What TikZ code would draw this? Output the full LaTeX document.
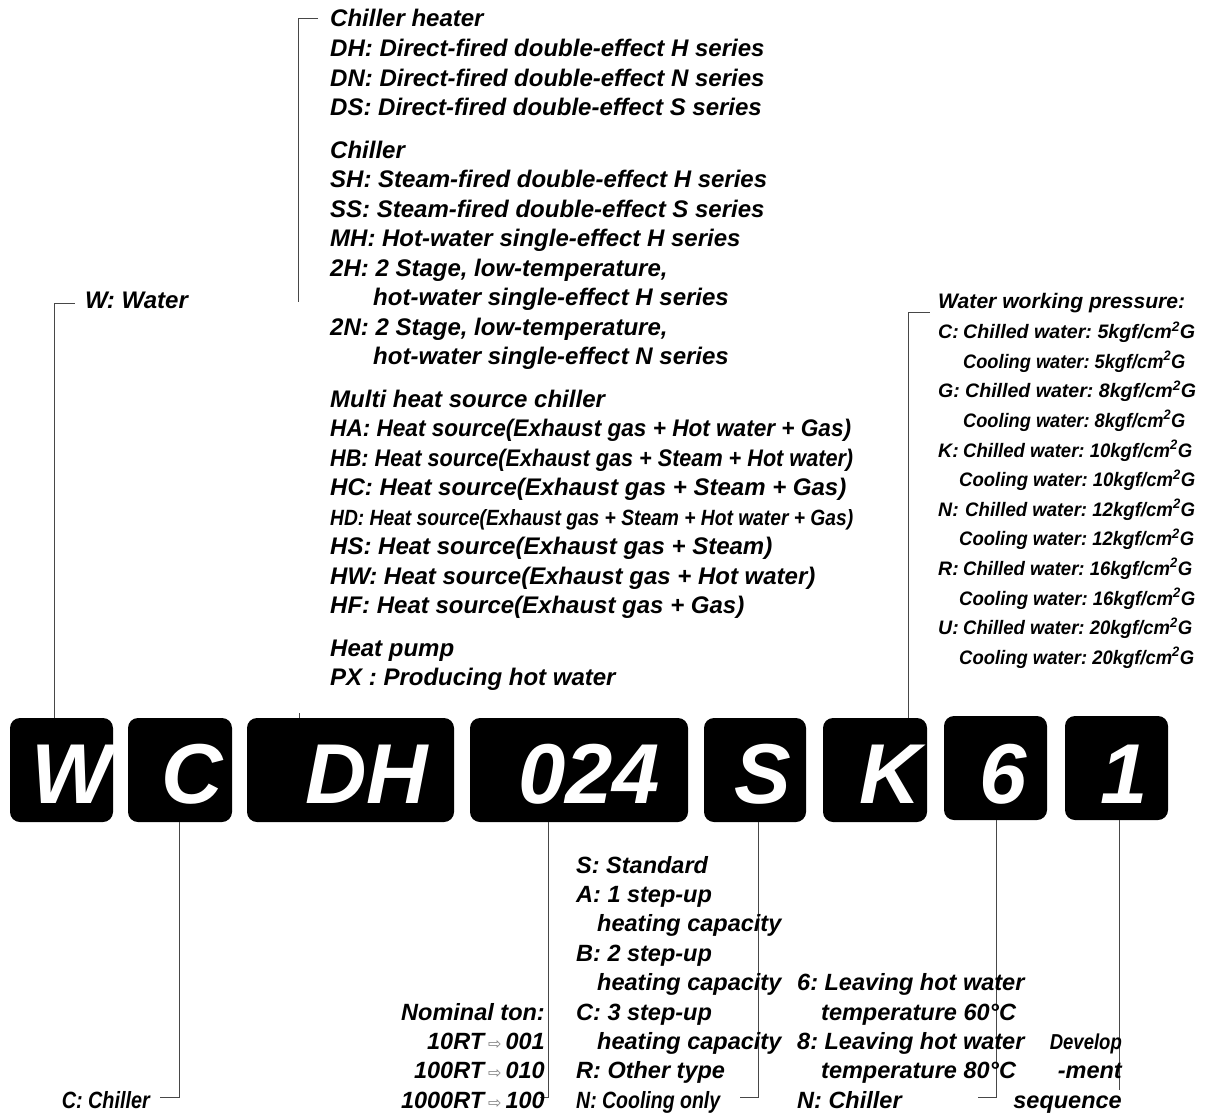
\documentclass[tikz,border=0pt]{standalone}
\usepackage{fontspec}
\usepackage{graphicx}
\setmainfont{Liberation Sans}
\newfontfamily\arrfont{DejaVu Sans}
\tikzset{
  kbox/.style={fill=black, rounded corners=10pt, minimum height=104pt, inner sep=0pt},
  klet/.style={anchor=base, text=white, inner sep=0pt, font=\fontsize{85}{85}\selectfont\bfseries\itshape},
  lead/.style={draw=black!72, line width=0.9pt},
  ttxt/.style={anchor=base west, inner sep=0pt, font=\fontsize{24}{24}\selectfont\bfseries\itshape},
  rhead/.style={anchor=base west, inner sep=0pt, font=\fontsize{21}{21}\selectfont\bfseries\itshape},
  rtxt/.style={anchor=base west, inner sep=0pt, font=\fontsize{19.5}{20}\selectfont\bfseries\itshape},
  btxt/.style={anchor=base west, inner sep=0pt, font=\fontsize{23.5}{24}\selectfont\bfseries\itshape},
  btxtr/.style={btxt, anchor=base east},
}
\newcommand\tonarr{\hspace{4pt}{\arrfont\mdseries\upshape\fontsize{16}{16}\selectfont\color{black!50}⇨}\hspace{4pt}}
\newcommand\pw[2]{\resizebox{#1pt}{\height}{#2}}
\newcommand\cmsq{cm\textsuperscript{2}G}
\begin{document}
\frenchspacing
\begin{tikzpicture}[x=1pt,y=-1pt]
\useasboundingbox (0,0) rectangle (1210,1113);
\fill[white] (0,0) rectangle (1210,1113);

% ---- code boxes ----
\node[kbox, minimum width=103pt] (bW) at (61.5,770) {};
\node[kbox, minimum width=104pt] (bC) at (180,770) {};
\node[kbox, minimum width=207pt] (bDH) at (350.5,770) {};
\node[kbox, minimum width=218pt] (bN) at (579,770) {};
\node[kbox, minimum width=102pt] (bS) at (755,770) {};
\node[kbox, minimum width=104pt] (bK) at (875,770) {};
\node[kbox, minimum width=103pt] (b6) at (995.5,768) {};
\node[kbox, minimum width=103pt] (b1) at (1116.5,768) {};

\node[klet] (lW) at (72,803) {W};
\node[klet] (lC) at (192,803) {C};
\node[klet] (lDH) at (367,803) {DH};
\node[klet] (lN) at (589,803) {024};
\node[klet] (lS) at (763,803) {S};
\node[klet] (lK) at (890,803) {K};
\node[klet] (l6) at (1003,803) {6};
\node[klet] (l1) at (1124,803) {1};

% ---- leader coordinates ----
\coordinate (wTop) at (54,303);   \coordinate (wEnd) at (75,303);
\coordinate (dTop) at (298,18);   \coordinate (dEnd) at (318,18);
\coordinate (dBot) at (298,302);
\coordinate (dTick) at (299,713);
\coordinate (cBot) at (179,1097); \coordinate (cEnd) at (160,1097);
\coordinate (nBot) at (548,1097); \coordinate (nEnd) at (540,1097);
\coordinate (sBot) at (758,1097); \coordinate (sEnd) at (740,1097);
\coordinate (kTop) at (908,312);  \coordinate (kEnd) at (930,312);
\coordinate (sixBot) at (996,1097); \coordinate (sixEnd) at (978,1097);
\coordinate (oneBot) at (1119,1090);

\draw[lead] (bW.north -| wTop) -- (wTop) -- (wEnd);
\draw[lead] (dEnd) -- (dTop) -- (dBot);
\draw[lead] (dTick) -- (bDH.north -| dTick);
\draw[lead] (bC.south -| cBot) -- (cBot) -- (cEnd);
\draw[lead] (bN.south -| nBot) -- (nBot) -- (nEnd);
\draw[lead] (bS.south -| sBot) -- (sBot) -- (sEnd);
\draw[lead] (bK.north -| kTop) -- (kTop) -- (kEnd);
\draw[lead] (b6.south -| sixBot) -- (sixBot) -- (sixEnd);
\draw[lead] (b1.south -| oneBot) -- (oneBot);

% ---- W ----
\node[ttxt] (tW) at (85,308) {W: Water};

% ---- type list ----
\node[ttxt] (t1) at (330,27) {Chiller heater};
\node[ttxt] (t2) at (330,57) {DH: Direct-fired double-effect H series};
\node[ttxt] (t3) at (330,86.5) {DN: Direct-fired double-effect N series};
\node[ttxt] (t4) at (330,116) {DS: Direct-fired double-effect S series};
\node[ttxt] (t5) at (330,158) {Chiller};
\node[ttxt] (t6) at (330,187.5) {SH: Steam-fired double-effect H series};
\node[ttxt] (t7) at (330,217) {SS: Steam-fired double-effect S series};
\node[ttxt] (t8) at (330,246.5) {MH: Hot-water single-effect H series};
\node[ttxt] (t9) at (330,276) {2H: 2 Stage, low-temperature,};
\node[ttxt] (t10) at (373,305.5) {hot-water single-effect H series};
\node[ttxt] (t11) at (330,335) {2N: 2 Stage, low-temperature,};
\node[ttxt] (t12) at (373,364.5) {hot-water single-effect N series};
\node[ttxt] (t13) at (330,407) {Multi heat source chiller};
\node[ttxt] (t14) at (330,436.5) {\resizebox{521pt}{\height}{HA: Heat source(Exhaust gas + Hot water + Gas)}};
\node[ttxt] (t15) at (330,466) {\resizebox{523pt}{\height}{HB: Heat source(Exhaust gas + Steam + Hot water)}};
\node[ttxt] (t16) at (330,495.5) {HC: Heat source(Exhaust gas + Steam + Gas)};
\node[ttxt] (t17) at (330,525) {\resizebox{523pt}{0.92\height}{HD: Heat source(Exhaust gas + Steam + Hot water + Gas)}};
\node[ttxt] (t18) at (330,554.5) {HS: Heat source(Exhaust gas + Steam)};
\node[ttxt] (t19) at (330,584) {HW: Heat source(Exhaust gas + Hot water)};
\node[ttxt] (t20) at (330,613.5) {HF: Heat source(Exhaust gas + Gas)};
\node[ttxt] (t21) at (330,656) {Heat pump};
\node[ttxt] (t22) at (330,685.5) {PX : Producing hot water};

% ---- pressure list ----
\node[rhead] (p0) at (938,308) {\pw{247}{Water working pressure:}};
\node[rtxt] (pC) at (938,338.6) {C:};
\node[rtxt] (pC1) at (963,338.6) {\pw{232}{Chilled water: 5kgf/\cmsq}};
\node[rtxt] (pC2) at (963,368.2) {\pw{222}{Cooling water: 5kgf/\cmsq}};
\node[rtxt] (pG) at (938,397.8) {G:};
\node[rtxt] (pG1) at (965,397.8) {\pw{231}{Chilled water: 8kgf/\cmsq}};
\node[rtxt] (pG2) at (963,427.4) {\pw{222}{Cooling water: 8kgf/\cmsq}};
\node[rtxt] (pK) at (938,457) {K:};
\node[rtxt] (pK1) at (963,457) {\pw{229}{Chilled water: 10kgf/\cmsq}};
\node[rtxt] (pK2) at (959,486.6) {\pw{236}{Cooling water: 10kgf/\cmsq}};
\node[rtxt] (pN) at (938,516.2) {N:};
\node[rtxt] (pN1) at (965,516.2) {\pw{230}{Chilled water: 12kgf/\cmsq}};
\node[rtxt] (pN2) at (959,545.8) {\pw{235}{Cooling water: 12kgf/\cmsq}};
\node[rtxt] (pR) at (938,575.4) {R:};
\node[rtxt] (pR1) at (963,575.4) {\pw{229}{Chilled water: 16kgf/\cmsq}};
\node[rtxt] (pR2) at (959,605) {\pw{236}{Cooling water: 16kgf/\cmsq}};
\node[rtxt] (pU) at (938,634.6) {U:};
\node[rtxt] (pU1) at (963,634.6) {\pw{229}{Chilled water: 20kgf/\cmsq}};
\node[rtxt] (pU2) at (959,664.2) {\pw{235}{Cooling water: 20kgf/\cmsq}};

% ---- bottom texts ----
\node[btxtr] (cc) at (150,1108.2) {\resizebox{88pt}{\height}{C: Chiller}};

\node[btxtr] (nt0) at (545,1020) {Nominal ton:};
\node[btxtr] (nt1) at (545,1049.4) {10RT\tonarr 001};
\node[btxtr] (nt2) at (545,1078.8) {100RT\tonarr 010};
\node[btxtr] (nt3) at (545,1108.2) {1000RT\tonarr 100};

\node[btxt] (s0) at (576,873) {S: Standard};
\node[btxt] (s1) at (576,902.4) {A: 1 step-up};
\node[btxt] (s2) at (597,931.8) {heating capacity};
\node[btxt] (s3) at (576,961.2) {B: 2 step-up};
\node[btxt] (s4) at (597,990.6) {heating capacity};
\node[btxt] (s5) at (576,1020) {C: 3 step-up};
\node[btxt] (s6) at (597,1049.4) {heating capacity};
\node[btxt] (s7) at (576,1078.8) {R: Other type};
\node[btxt] (s8) at (576,1108.2) {\resizebox{144pt}{\height}{N: Cooling only}};

\node[btxt] (h0) at (797,990.6) {6: Leaving hot water};
\node[btxt] (h1) at (821,1020) {temperature 60°C};
\node[btxt] (h2) at (797,1049.4) {8: Leaving hot water};
\node[btxt] (h3) at (821,1078.8) {temperature 80°C};
\node[btxt] (h4) at (797,1108.2) {N: Chiller};

\node[btxtr] (d0) at (1122,1049.4) {\resizebox{72pt}{0.92\height}{Develop}};
\node[btxtr] (d1) at (1122,1078.8) {-ment};
\node[btxtr] (d2) at (1122,1108.2) {sequence};
\end{tikzpicture}
\end{document}
